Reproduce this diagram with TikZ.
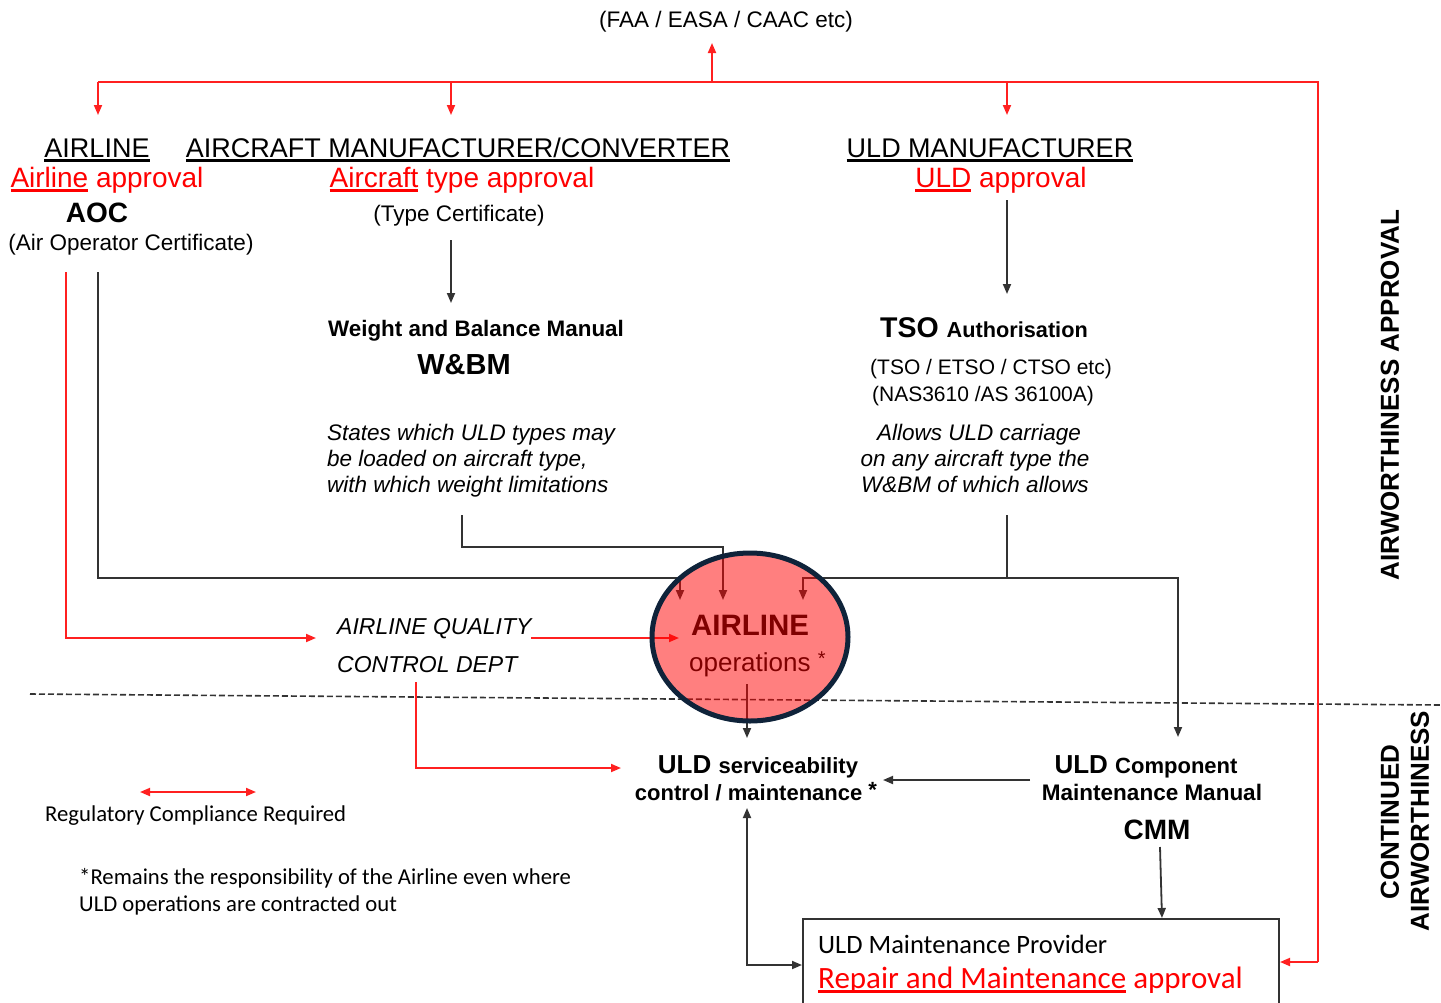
\documentclass[tikz,border=0pt]{standalone}
\usepackage{fontspec}
\setmainfont{Liberation Sans}
\newfontfamily\calib{Carlito}
\usetikzlibrary{arrows.meta,shapes.geometric}

% font size in px-sized points
\newcommand\fsz[1]{\fontsize{#1}{#1}\selectfont}
% heavy underline drawn in the current text colour
\newcommand\thickul[1]{\setbox0\hbox{#1}\leavevmode\rlap{\rule[-4.5pt]{\wd0}{2.8pt}}\box0\relax}

\definecolor{navyedge}{HTML}{0F233A}
\definecolor{linegray}{HTML}{333333}
\definecolor{redline}{HTML}{FF2020}

\begin{document}
\begin{tikzpicture}[x=1pt,y=-1pt,
  lbl/.style={inner sep=0pt, anchor=base},
  lblw/.style={inner sep=0pt, anchor=base west},
  blk/.style={draw=linegray, line width=1.8pt, -{Triangle[length=10pt,width=8pt]}},
  blkln/.style={draw=linegray, line width=1.8pt},
  redln/.style={draw=redline, line width=1.8pt},
  redarr/.style={redln, -{Triangle[length=10pt,width=8pt]}},
  redboth/.style={redln, {Triangle[length=10pt,width=8pt]}-{Triangle[length=10pt,width=8pt]}},
  vlabel/.style={inner sep=0pt, rotate=90, font=\bfseries\fsz{26}}
]
\useasboundingbox (0,0) rectangle (1441,1002);
\clip (0,0) rectangle (1441,1002);

% ---------- authority ----------
\node[lbl] (reg) at (726,27) {\fsz{22.5}(FAA / EASA / CAAC etc)};

% ---------- approval holders ----------
\node[lbl] (airline) at (97,157) {\fsz{27}\thickul{AIRLINE}};
\node[lbl] (acm) at (458,157) {\fsz{27}\thickul{AIRCRAFT MANUFACTURER/CONVERTER}};
\node[lbl] (uldm) at (990,157) {\fsz{27}\thickul{ULD MANUFACTURER}};

\node[lbl,text=red] (aappr) at (107,187) {\fsz{28}\thickul{Airline} approval};
\node[lbl,text=red] (tappr) at (462,187) {\fsz{28}\thickul{Aircraft} type approval};
\node[lbl,text=red] (uappr) at (1001,187) {\fsz{28}\thickul{ULD} approval};

\node[lbl] (aoc) at (97,222) {\fsz{28}\bfseries AOC};
\node[lbl] (aocfull) at (131,250) {\fsz{22.5}(Air Operator Certificate)};
\node[lbl] (tcert) at (459,221) {\fsz{22.5}(Type Certificate)};

% ---------- manuals / authorisations ----------
\node[lbl] (wbm) at (476,336) {\fsz{22.4}\bfseries Weight and Balance Manual};
\node[lbl] (wbmab) at (464,374) {\fsz{29}\bfseries W\&BM};
\node[lblw] (wbm1) at (327,440) {\fsz{22.5}\itshape States which ULD types may};
\node[lblw] (wbm2) at (327,466) {\fsz{22.5}\itshape be loaded on aircraft type,};
\node[lblw] (wbm3) at (327,492) {\fsz{22.5}\itshape with which weight limitations};

\node[lbl] (tso) at (984,337) {\fsz{28.5}\bfseries TSO \fsz{21.7}Authorisation};
\node[lbl] (tsolist) at (991,374) {\fsz{21}(TSO / ETSO / CTSO etc)};
\node[lbl] (nas) at (983,401) {\fsz{21}(NAS3610 /AS 36100A)};
\node[lbl] (tso1) at (979,440) {\fsz{22.5}\itshape Allows ULD carriage};
\node[lbl] (tso2) at (975,466) {\fsz{22.5}\itshape on any aircraft type the};
\node[lbl] (tso3) at (975,492) {\fsz{22.5}\itshape W\&BM of which allows};

% ---------- quality dept and operations ----------
\node[lblw] (aq1) at (337,634) {\fsz{23}\itshape AIRLINE QUALITY};
\node[lblw] (aq2) at (337,672) {\fsz{23}\itshape CONTROL DEPT};
\node[lbl] (opsa) at (750,635) {\fsz{29.5}\bfseries AIRLINE};
\node[lblw] (opsb) at (689,671) {\fsz{26}operations \raisebox{6pt}{\fsz{20}*}};

% ---------- continued airworthiness ----------
\node[lbl] (serv1) at (758,773) {\bfseries\fsz{26}ULD \fsz{22}serviceability};
\node[lbl] (serv2) at (756,800) {\bfseries\fsz{22}control / maintenance \raisebox{3pt}{*}};
\node[lbl] (cmm1) at (1146,773) {\bfseries\fsz{26}ULD \fsz{22}Component};
\node[lbl] (cmm2) at (1152,800) {\bfseries\fsz{22.5}Maintenance Manual};
\node[lbl] (cmm3) at (1157,839) {\bfseries\fsz{28}CMM};

\node[lblw] (legend) at (45,821) {\calib\fsz{22.7}Regulatory Compliance Required};
\node[lblw] (note1) at (79,884) {\calib\fsz{22.7}*Remains the responsibility of the Airline even where};
\node[lblw] (note2) at (79,911) {\calib\fsz{22.7}ULD operations are contracted out};

% maintenance provider box (open below the page edge)
\draw[draw=linegray, line width=2.5pt] (803,1010) -- (803,919) -- (1279,919) -- (1279,1010);
\node[lblw] (prov1) at (818,953) {\calib\fsz{26.5}ULD Maintenance Provider};
\node[lblw,text=red] (prov2) at (818,988) {\calib\fsz{31}\thickul{Repair and Maintenance} approval};

% section labels
\node[vlabel] (sec1) at (1390,395) {AIRWORTHINESS APPROVAL};
\node[vlabel] (sec2) at (1390,822) {CONTINUED};
\node[vlabel] (sec3) at (1420,821) {AIRWORTHINESS};

% section divider
\draw[draw=linegray, line width=1.6pt, dash pattern=on 6pt off 3pt] (30,694) -- (1441,705);

% ---------- regulatory (red) links ----------
\coordinate (rtop) at (712,82);
\coordinate (rl) at (98,82);
\coordinate (rr) at (1318,82);
\draw[redln] (rl) -- (rr) -- (1318,962) coordinate (rbox);
\draw[redarr] (rtop) -- (712,43) coordinate (regin);
\draw[redarr] (rl) -- (98,115);
\draw[redarr] (451,82) -- (451,115);
\draw[redarr] (1007,82) -- (1007,115);
\draw[redarr] (rbox) -- (1280,962);
\draw[redarr] (66,272) -- (66,638) -- (316,638);
\draw[redarr] (531,638) -- (679,638);
\draw[redarr] (416,682) -- (416,768) -- (621,768);
\draw[redboth] (140,792) -- (256,792);

% ---------- black links ----------
\draw[blk] (451,240) -- (451,303);
\draw[blk] (1007,200) -- (1007,294);
\draw[blk] (98,272) -- (98,578) -- (680,578) -- (680,600);
\draw[blk] (462,515) -- (462,547) -- (723,547) -- (723,600);
\draw[blkln] (1007,515) -- (1007,578) coordinate (tj);
\draw[blk] (tj) -- (803,578) -- (803,600);
\draw[blk] (tj) -- (1178,578) -- (1178,737);
\draw[blk] (747,684) -- (747,738);
\draw[blk] (1030,780) -- (883,780);
\draw[blk] (1160,847) -- (1162,918);
\draw[draw=linegray, line width=1.8pt, {Triangle[length=10pt,width=8pt]}-{Triangle[length=10pt,width=8pt]}] (747,808) -- (747,965) -- (802,965);

% ---------- airline operations (translucent disc over the links) ----------
\node[ellipse, minimum width=196pt, minimum height=168pt, draw=navyedge,
      line width=5pt, fill=red, fill opacity=0.5, draw opacity=1] (ops) at (750,637) {};
\end{tikzpicture}
\end{document}
